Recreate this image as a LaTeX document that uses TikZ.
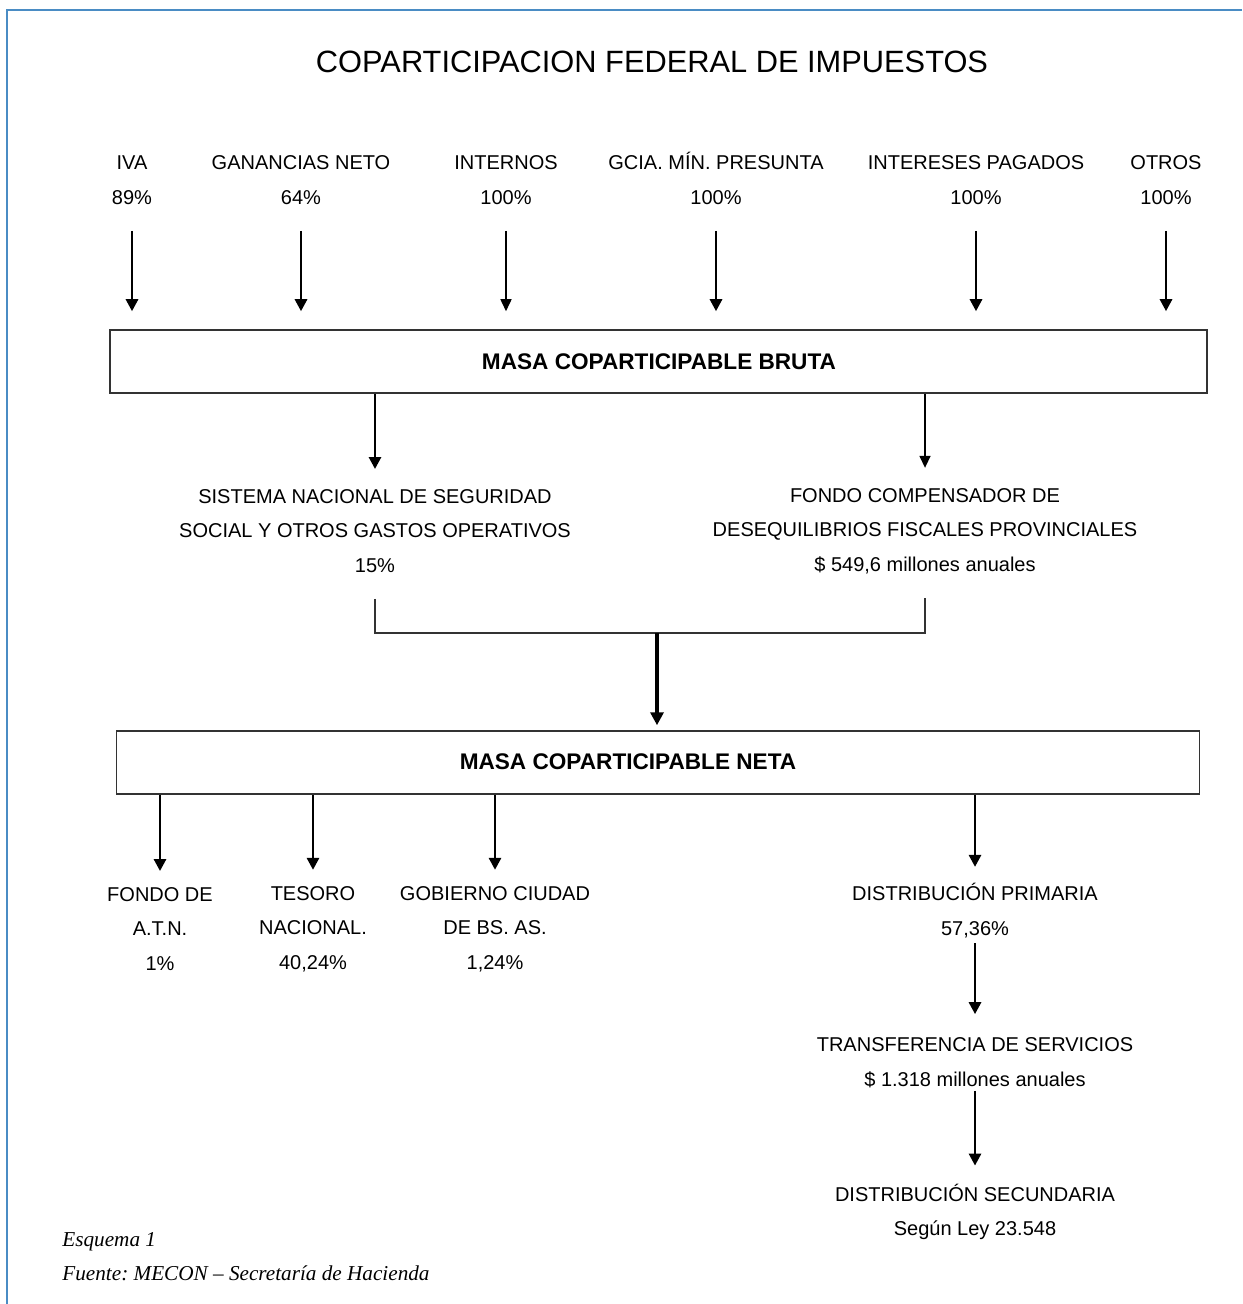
\documentclass[tikz,border=0pt]{standalone}
\usepackage{fontspec}
\setmainfont{Liberation Sans}
\newfontfamily\piefont{Liberation Serif}
\usepackage{xcolor}
\usetikzlibrary{positioning,arrows.meta}
\definecolor{marco}{RGB}{74,140,196}
\frenchspacing

\begin{document}
\begin{tikzpicture}[x=0.5pt,y=-0.5pt,
    lbl/.style={font=\fontsize{10}{17.25}\selectfont, align=center, inner sep=0pt},
    boxlbl/.style={font=\fontsize{11.3}{13}\selectfont\bfseries, inner sep=0pt},
    masa/.style={draw=black!80, line width=0.75pt, minimum height=31.5pt, inner sep=0pt},
    arr/.style={-{Triangle[length=6pt,width=6pt]}, line width=1.4pt},
    thinarr/.style={-{Triangle[length=6pt,width=5.5pt]}, line width=0.75pt},
    bigarr/.style={-{Triangle[length=6.5pt,width=6.5pt]}, line width=2pt},
    pie/.style={font=\piefont\itshape\fontsize{10.6}{12}\selectfont, inner sep=0pt, anchor=base west}]
    \useasboundingbox (0,0) rectangle (1242,1304);

    % Marco
    \draw[marco, line width=1pt] (1242,10) -- (7,10) -- (7,1304);

    % Titulo
    \node[font=\fontsize{15.4}{18}\selectfont] (titulo) at (652,62) {COPARTICIPACION FEDERAL DE IMPUESTOS};

    % Cajas
    \node[masa, minimum width=548.5pt] (bruta) at (658.5,361.5) {};
    \node[boxlbl] (brutatxt) at (659,362) {MASA COPARTICIPABLE BRUTA};
    \node[masa, minimum width=541.5pt] (neta) at (658,762.5) {};
    \node[boxlbl] (netatxt) at (628,762) {MASA COPARTICIPABLE NETA};

    % Impuestos
    \foreach \n/\x/\t/\p/\s in {iva/132/IVA/89/arr, gan/301/GANANCIAS NETO/64/arr,
        int/506/INTERNOS/100/thinarr, gcia/716/GCIA. MÍN. PRESUNTA/100/arr,
        intp/976/INTERESES PAGADOS/100/arr, otros/1166/OTROS/100/arr}{
      \node[lbl, anchor=south] (\n) at (\x,205) {\t\\\p\%};
      \draw[\s, shorten <=13pt, shorten >=9pt] (\n.south) -- (\n.south |- bruta.north);
    }

    % Detracciones
    \node[lbl] (ssn) at (375,531) {SISTEMA NACIONAL DE SEGURIDAD\\SOCIAL Y OTROS GASTOS OPERATIVOS\\15\%};
    \node[lbl] (fcd) at (925,531) {FONDO COMPENSADOR DE\\DESEQUILIBRIOS FISCALES PROVINCIALES\\\$ 549,6 millones anuales};
    \draw[arr, shorten >=10pt] (bruta.south -| ssn) -- (ssn.north);
    \draw[thinarr, shorten >=10pt] (bruta.south -| fcd) -- (fcd.north);

    % Union
    \coordinate (jm) at (657,633);
    \draw[line width=0.75pt, black!80, shorten <=13pt, shorten >=12pt] (ssn.south) |- (jm) -| (fcd.south);
    \draw[bigarr, shorten >=2.5pt] (jm) -- (jm |- neta.north);

    % Destinos
    \node[lbl] (atn) at (160,929) {FONDO DE\\A.T.N.\\1\%};
    \node[lbl] (tes) at (313,929) {TESORO\\NACIONAL.\\40,24\%};
    \node[lbl] (gcba) at (495,929) {GOBIERNO CIUDAD\\DE BS. AS.\\1,24\%};
    \node[lbl] (prim) at (975,910.5) {DISTRIBUCIÓN PRIMARIA\\57,36\%};
    \node[lbl] (trans) at (975,1062.5) {TRANSFERENCIA DE SERVICIOS\\\$ 1.318 millones anuales};
    \node[lbl] (sec) at (975,1212) {DISTRIBUCIÓN SECUNDARIA\\Según Ley 23.548};
    \foreach \n in {atn,tes,gcba,prim}
      \draw[arr, shorten >=8pt] (neta.south -| \n) -- (\n.north);
    \draw[arr, shorten <=2.5pt, shorten >=11.5pt] (prim.south) -- (trans.north);
    \draw[arr, shorten <=1.5pt, shorten >=9pt] (trans.south) -- (sec.north);

    % Fuente
    \node[pie] (esq) at (62,1246) {Esquema 1};
    \node[pie] (fuente) at (62,1280) {Fuente: MECON – Secretaría de Hacienda};
\end{tikzpicture}
\end{document}
